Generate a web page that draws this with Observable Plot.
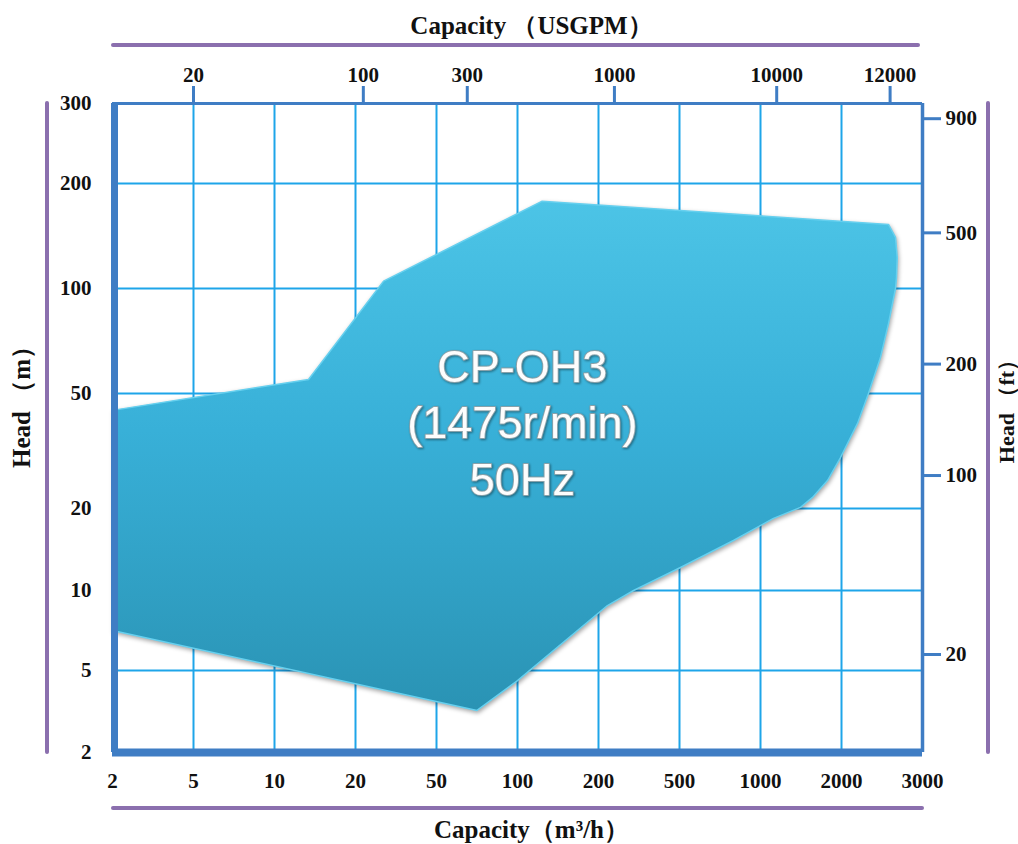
<!DOCTYPE html>
<html><head><meta charset="utf-8">
<script src="https://cdn.jsdelivr.net/npm/d3@7"></script>
<script src="https://cdn.jsdelivr.net/npm/@observablehq/plot@0.6"></script>
<style>
body{margin:0;background:#fff;}
svg g[aria-label="line"] path{filter:drop-shadow(1px 2px 2px rgba(0,0,0,0.35));}
svg g.model-text text{filter:drop-shadow(1px 1.5px 1px rgba(0,0,0,0.4));}
</style></head><body><div id="chart"></div>
<script>
// Bottom axis: capacity (m³/h) ticks; left axis: head (m) ticks
const xTicks = [2, 5, 10, 20, 50, 100, 200, 500, 1000, 2000, 3000];
const yTicks = [2, 5, 10, 20, 50, 100, 200, 300];
// Top axis (USGPM) labels and where they sit, in m³/h
const usgpmLabels = ["20", "100", "300", "1000", "10000", "12000"];
const usgpmAtM3h = [5, 22.9, 69, 259, 1200, 2600];
// Right axis (ft) labels and where they sit, in m
const ftLabels = ["900", "500", "200", "100", "20"];
const ftAtM = [281, 153, 64, 28.6, 6.0];
// Performance envelope outline (capacity m³/h, head m)
const envQ = [2, 14.2, 30.4, 130, 2580, 2667, 2688, 2679, 2667, 2580, 2481, 2333, 2198, 1988, 1827, 1642, 1494, 1160, 833, 506, 330, 233, 100, 75, 2];
const envH = [45.6, 56.7, 107, 183, 161, 148.6, 129.5, 110.5, 100, 83.3, 67.1, 50, 42.2, 33.3, 27.3, 22.9, 20.3, 18.8, 16.1, 12.8, 10, 9.06, 4.63, 3.54, 7.5];
// Model label
const modelLines = ["CP-OH3", "(1475r/min)", "50Hz"];
const modelQ = [106];
const modelH = [43];

const envelope = envQ.map((q, i) => ({q, h: envH[i]}));
const ftMap = new Map(ftAtM.map((m, i) => [m, ftLabels[i]]));
const usMap = new Map(usgpmAtM3h.map((m, i) => [m, usgpmLabels[i]]));
const model = [{q: modelQ[0], h: modelH[0], t: modelLines.join("\n")}];

const frameBlue = "#3f7dc4", gridBlue = "#1ea5e9", purple = "#8b6fae";
const serif = "'Times New Roman','Liberation Serif',serif";
const tickText = {fontSize: 21, fontWeight: "bold", fontFamily: serif, label: null};
const titleText = {fontSize: 25, fontWeight: "bold", fontFamily: serif, fill: "#111"};

const chart = Plot.plot({
  width: 1018, height: 844,
  marginLeft: 112, marginRight: 96, marginTop: 103, marginBottom: 92,
  style: {background: "#fff", color: "#111", fontFamily: serif, overflow: "visible"},
  x: {type: "linear", domain: xTicks, axis: null},
  y: {type: "linear", domain: yTicks, range: [752, 670, 590, 508, 393, 288, 183, 103], axis: null},
  marks: [
    Plot.ruleX(xTicks.slice(1, -1), {stroke: gridBlue, strokeWidth: 2}),
    Plot.ruleY(yTicks.slice(1, -1), {stroke: gridBlue, strokeWidth: 2}),
    Plot.line(envelope, {x: "q", y: "h", fill: "url(#envGrad)", stroke: "#66d0ef", strokeWidth: 1.5, strokeLinejoin: "round"}),
    Plot.text(model, {x: "q", y: "h", text: "t", fontSize: 45, fontFamily: "Arial,'Liberation Sans',sans-serif",
      fill: "#fdfdfd", stroke: "#8aa2aa", strokeWidth: 2, paintOrder: "stroke", lineHeight: 1.255, lineAnchor: "middle", textAnchor: "middle"}),
    Plot.ruleY([300], {stroke: frameBlue, strokeWidth: 3}),
    Plot.ruleX([3000], {stroke: frameBlue, strokeWidth: 3.5}),
    Plot.ruleX([2], {stroke: frameBlue, strokeWidth: 7, dx: 2}),
    Plot.ruleY([2], {stroke: frameBlue, strokeWidth: 8}),
    Plot.axisY(yTicks, {anchor: "left", tickSize: 0, tickPadding: 21, tickFormat: d => String(d), ...tickText}),
    Plot.axisY(ftAtM, {anchor: "right", tickSize: 18, tickPadding: 5, stroke: frameBlue, strokeWidth: 3, tickFormat: d => ftMap.get(d), ...tickText}),
    Plot.axisX(xTicks, {anchor: "bottom", tickSize: 0, tickPadding: 21, tickFormat: d => String(d), ...tickText}),
    Plot.axisX(usgpmAtM3h, {anchor: "top", tickSize: 18, tickPadding: 4, stroke: frameBlue, strokeWidth: 3, tickFormat: d => usMap.get(d), ...tickText}),
    Plot.text(["Capacity （USGPM）"], {frameAnchor: "top", dx: 14, dy: -70, lineAnchor: "bottom", ...titleText}),
    Plot.text(["Capacity（m³/h）"], {frameAnchor: "bottom", dx: 14, dy: 85, lineAnchor: "bottom", ...titleText}),
    Plot.text(["Head （m）"], {frameAnchor: "left", rotate: -90, dx: -91, dy: -27, textAnchor: "middle", lineAnchor: "middle", ...titleText}),
    Plot.text(["Head （ft）"], {frameAnchor: "right", rotate: -90, dx: 84, dy: -22, textAnchor: "middle", lineAnchor: "middle", ...titleText, fontSize: 22})
  ]
});

const svg = d3.select(chart);
const defs = svg.insert("defs", ":first-child");
const grad = defs.append("linearGradient").attr("id", "envGrad").attr("x1", 0).attr("y1", 0).attr("x2", 0).attr("y2", 1);
grad.append("stop").attr("offset", "0%").attr("stop-color", "#4cc4e6");
grad.append("stop").attr("offset", "45%").attr("stop-color", "#38b0d8");
grad.append("stop").attr("offset", "100%").attr("stop-color", "#2a93b4");
svg.selectAll('g[aria-label="text"]').filter(function() { return d3.select(this).text().includes("CP-OH3"); }).classed("model-text", true);

// purple decorative border lines
const deco = svg.insert("g", ":first-child").attr("stroke", purple).attr("stroke-width", 4).attr("stroke-linecap", "round");
deco.append("line").attr("x1", 113).attr("x2", 918).attr("y1", 45).attr("y2", 45);
deco.append("line").attr("x1", 113).attr("x2", 922).attr("y1", 808).attr("y2", 808);
deco.append("line").attr("x1", 47).attr("x2", 47).attr("y1", 103).attr("y2", 752);
deco.append("line").attr("x1", 988).attr("x2", 988).attr("y1", 103).attr("y2", 752);

document.getElementById("chart").appendChild(chart);
</script></body></html>
